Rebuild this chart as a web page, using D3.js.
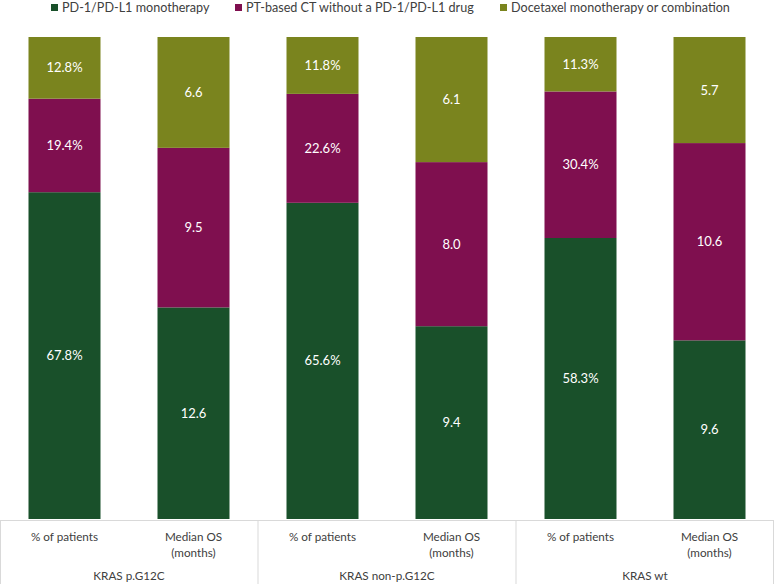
<!DOCTYPE html>
<html><head><meta charset="utf-8">
<script src="https://cdn.jsdelivr.net/npm/d3@7"></script>
<style>html,body{margin:0;padding:0;background:#fff;}svg{display:block;}</style>
</head><body>
<svg id="c" width="774" height="584"></svg>
<script>
const groups = ["KRAS p.G12C", "KRAS non-p.G12C", "KRAS wt"];
const measures = ["% of patients", "Median OS\n(months)"];
const seriesNames = ["PD-1/PD-L1 monotherapy", "PT-based CT without a PD-1/PD-L1 drug", "Docetaxel monotherapy or combination"];
const colors = ["#19502a", "#7f0f4f", "#7a841e"];
// values per bar (6 bars): [PD-1, PT-based, Docetaxel]
const pd1Values =      [67.8, 12.6, 65.6, 9.4, 58.3, 9.6];
const ptValues =       [19.4, 9.5, 22.6, 8.0, 30.4, 10.6];
const docetaxelValues = [12.8, 6.6, 11.8, 6.1, 11.3, 5.7];
const isPercent =      [true, false, true, false, true, false];

const svg = d3.select("#c");
const W = 774, H = 584;
const plotTop = 37, plotBottom = 519;
const font = "Lato, 'Open Sans', sans-serif";

const bars = pd1Values.map((v, i) => ({i, vals: [pd1Values[i], ptValues[i], docetaxelValues[i]], pct: isPercent[i]}));
const x = d3.scaleBand().domain(d3.range(bars.length)).range([0, W]).paddingInner(57/129).paddingOuter(57/258);
const y = d3.scaleLinear().domain([0, 1]).range([plotBottom, plotTop]);

bars.forEach(b => {
  const total = d3.sum(b.vals);
  let acc = 0;
  b.vals.forEach((v, s) => {
    const y0 = acc / total, y1 = (acc + v) / total;
    acc += v;
    svg.append("rect").attr("x", x(b.i)).attr("width", x.bandwidth())
      .attr("y", y(y1)).attr("height", y(y0) - y(y1)).attr("fill", colors[s]);
    svg.append("text").attr("x", x(b.i) + x.bandwidth()/2).attr("y", (y(y0) + y(y1))/2)
      .attr("dy", "0.35em").attr("text-anchor", "middle").attr("fill", "#ffffff")
      .attr("font-family", font).attr("font-size", 13)
      .text(b.pct ? v.toFixed(1) + "%" : v.toFixed(1));
  });
});

// category axis table
const lineColor = "#d9d9d9";
svg.append("line").attr("x1", 0).attr("x2", W).attr("y1", 520.5).attr("y2", 520.5).attr("stroke", lineColor);
const gx = d3.scaleBand().domain(groups).range([0, W]);
[0, gx.step(), 2*gx.step(), W].forEach(px => {
  const xx = Math.min(Math.max(px, 0.5), W - 0.5);
  svg.append("line").attr("x1", xx).attr("x2", xx).attr("y1", 520).attr("y2", H).attr("stroke", lineColor);
});
bars.forEach(b => {
  const lines = measures[b.i % 2].split("\n");
  lines.forEach((ln, k) => {
    svg.append("text").attr("x", x(b.i) + x.bandwidth()/2).attr("y", 541 + k*16)
      .attr("text-anchor", "middle").attr("fill", "#404040").attr("font-family", font).attr("font-size", 11.7)
      .text(ln);
  });
});
groups.forEach(g => {
  svg.append("text").attr("x", gx(g) + gx.bandwidth()/2).attr("y", 580)
    .attr("text-anchor", "middle").attr("fill", "#404040").attr("font-family", font).attr("font-size", 11.7)
    .text(g);
});

// legend
const legendX = [51, 235, 500];
seriesNames.forEach((n, s) => {
  svg.append("rect").attr("x", legendX[s]).attr("y", 4).attr("width", 7).attr("height", 7).attr("fill", colors[s]);
  svg.append("text").attr("x", legendX[s] + 11).attr("y", 8).attr("dy", "0.35em")
    .attr("fill", "#404040").attr("font-family", font).attr("font-size", 12.6).text(n);
});
</script>
</body></html>
